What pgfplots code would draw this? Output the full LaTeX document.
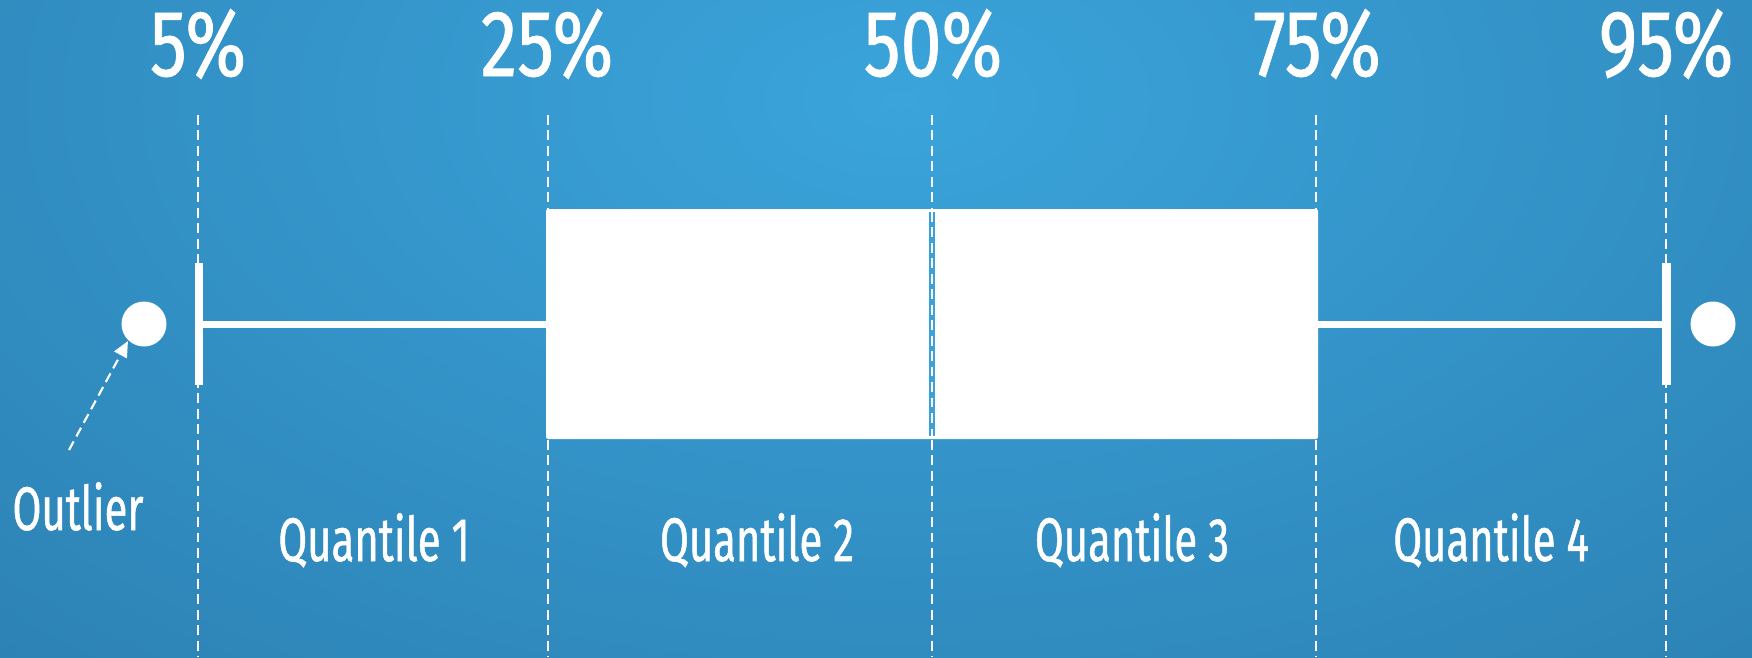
\documentclass[border=0pt]{standalone}
\usepackage{fontspec}
\setmainfont{Fira Sans}[FakeStretch=0.75]
\newfontfamily\pctfont{Fira Sans}[FakeStretch=0.78, FakeBold=0.8]
\newfontfamily\qfont{Fira Sans}[FakeStretch=0.68, FakeBold=0.8]
\usepackage{pgfplots}
\pgfplotsset{compat=1.18}
\usetikzlibrary{arrows.meta}
\definecolor{bgin}{RGB}{58,164,219}
\definecolor{bgout}{RGB}{44,128,178}
\definecolor{gapblue}{RGB}{58,162,217}
\tikzset{pct/.style={white, anchor=base, inner sep=0pt, font=\pctfont\fontsize{26.8}{32}\selectfont},
  qlab/.style={white, anchor=base, inner sep=0pt, font=\qfont\fontsize{17.5}{21}\selectfont}}
\begin{document}
\begin{tikzpicture}
\begin{axis}[
  width=17.52cm, height=6.57cm, scale only axis,
  xmin=0, xmax=1752, ymin=0, ymax=657, y dir=reverse,
  hide axis, clip=false,
]
% background
\path (axis cs:0,0) rectangle (axis cs:1752,657);
\begin{scope}
\clip (axis cs:0,0) rectangle (axis cs:1752,657);
\shade[overlay, inner color=bgin, outer color=bgout] (axis cs:-500,-700) rectangle (axis cs:2300,900);
\end{scope}
% dashed percentile lines
\addplot[white, line width=0.6pt, dash pattern=on 2.8pt off 1.6pt] coordinates {(198,115) (198,657)};
\addplot[white, line width=0.6pt, dash pattern=on 2.8pt off 1.6pt] coordinates {(548,115) (548,657)};
\addplot[white, line width=0.6pt, dash pattern=on 2.8pt off 1.6pt] coordinates {(932,115) (932,657)};
\addplot[white, line width=0.6pt, dash pattern=on 2.8pt off 1.6pt] coordinates {(1316,115) (1316,657)};
\addplot[white, line width=0.6pt, dash pattern=on 2.8pt off 1.6pt] coordinates {(1666,115) (1666,657)};
% box
\addplot[fill=white, draw=none, rounded corners=0.6pt] coordinates {(546,209) (1318,209) (1318,439) (546,439)} -- cycle;
% median
\addplot[gapblue, line width=1.8pt] coordinates {(932,212) (932,436)};
\addplot[white, line width=0.6pt, dash pattern=on 2.8pt off 1.6pt] coordinates {(932,212) (932,436)};
% whiskers
\addplot[white, line width=2.1pt] coordinates {(199,324.5) (546,324.5)};
\addplot[white, line width=2.1pt] coordinates {(1318,324.5) (1666,324.5)};
\addplot[white, line width=2.3pt] coordinates {(199,263) (199,385)};
\addplot[white, line width=2.3pt] coordinates {(1666.5,263) (1666.5,385)};
% outliers
\addplot[only marks, mark=*, mark size=6.2pt, white] coordinates {(144,324) (1713,324)};
% arrow
\draw[white, line width=0.6pt, dash pattern=on 2.8pt off 1.6pt, -{Triangle[width=4pt,length=4.5pt]}] (axis cs:69,450) -- (axis cs:128,341);
% labels
\node[pct] at (axis cs:198,76) {5\%};
\node[pct] at (axis cs:547,76) {25\%};
\node[pct] at (axis cs:933,76) {50\%};
\node[pct] at (axis cs:1317,76) {75\%};
\node[pct] at (axis cs:1666,76) {95\%};
\node[qlab] at (axis cs:374,561) {Quantile 1};
\node[qlab] at (axis cs:757,561) {Quantile 2};
\node[qlab] at (axis cs:1132,561) {Quantile 3};
\node[qlab] at (axis cs:1491,561) {Quantile 4};
\node[qlab] at (axis cs:78,530) {Outlier};
\end{axis}
\pgfresetboundingbox
\path (current axis.south west) rectangle (current axis.north east);
\end{tikzpicture}
\end{document}
